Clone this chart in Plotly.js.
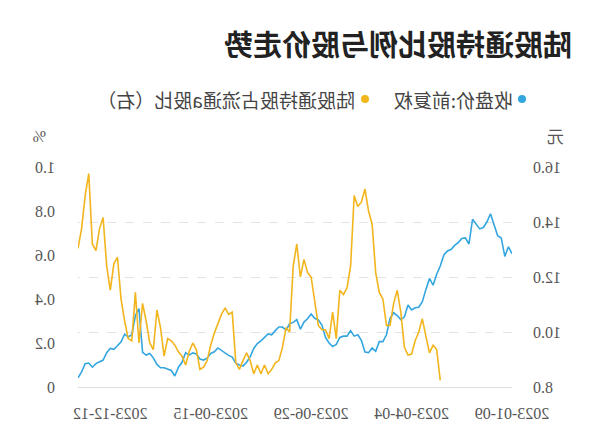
<!DOCTYPE html>
<html><head><meta charset="utf-8">
<script src="https://cdn.plot.ly/plotly-3.0.1.min.js"></script>
<style>
html,body{margin:0;padding:0;background:#fff;}
#chart{width:600px;height:446px;transform:scaleX(-1);}
</style>
</head><body><div id="chart"></div>
<script>
const chartTitle = '陆股通持股比例与股价走势';
const seriesNames = ['收盘价:前复权', '陆股通持股占流通a股比（右）'];
const tickIndex = [0, 28, 56, 84, 112];
const tickLabels = ['2023-01-09', '2023-04-04', '2023-06-29', '2023-09-15', '2023-12-12'];
const priceTicks = [8, 10, 12, 14, 16];
const pctTicks = [0, 0.2, 0.4, 0.6, 0.8, 1.0];
const pctTickText = ['0', '0.2', '0.4', '0.6', '0.8', '1.0'];

const price = [
 12.85,13.1,12.75,13.42,13.5,13.9,14.3,14.0,13.8,13.75,
 13.95,14.1,13.2,13.42,13.4,13.25,13.15,13.0,12.95,12.8,
 12.4,12.1,11.7,11.95,11.55,11.1,10.9,10.88,10.8,10.98,
 10.55,10.45,10.6,10.7,10.5,9.9,9.65,9.65,9.3,9.42,
 9.25,9.27,9.7,9.9,9.85,10.05,9.85,9.85,9.8,9.55,
 9.47,9.6,9.8,10.25,10.44,10.5,10.65,10.48,10.36,10.1,
 10.45,10.35,10.3,10.07,10.18,10.18,10.05,9.9,9.93,9.8,
 9.68,9.58,9.4,9.1,8.9,8.76,8.8,8.87,9.09,9.15,
 9.25,9.33,9.42,9.28,9.22,9.05,8.98,9.02,9.2,9.24,
 9.16,9.25,8.9,8.72,8.4,8.6,8.66,8.7,8.7,8.82,
 9.06,9.22,9.16,9.26,10.85,10.6,9.9,9.82,9.92,9.64,
 9.5,9.37,9.4,9.25,8.98,8.91,8.85,8.72,8.87,8.85,
 8.55,8.33
];

const holding = [
 null,null,null,null,null,null,null,null,null,null,
 null,null,null,null,null,null,null,null,null,null,
 0.03,0.17,0.19,0.155,0.23,0.31,0.25,0.21,0.15,0.145,
 0.18,0.34,0.44,0.38,0.28,0.28,0.4,0.43,0.52,0.74,
 0.8,0.9,0.84,0.82,0.87,0.55,0.45,0.42,0.44,0.22,
 0.34,0.22,0.26,0.26,0.28,0.4,0.5,0.52,0.58,0.5,
 0.65,0.55,0.25,0.27,0.18,0.12,0.11,0.08,0.06,0.1,
 0.06,0.1,0.06,0.12,0.155,0.12,0.08,0.11,0.34,0.33,
 0.36,0.33,0.29,0.245,0.19,0.12,0.09,0.08,0.17,0.2,
 0.16,0.1,0.14,0.16,0.19,0.21,0.22,0.14,0.27,0.35,
 0.17,0.2,0.3,0.38,0.2,0.43,0.21,0.22,0.3,0.4,
 0.59,0.56,0.44,0.55,0.77,0.72,0.62,0.65,0.97,0.87,
 0.72,0.63
];

const idx = price.map((_, i) => i);
const BLUE = '#33a6e0', GOLD = '#f2b51e';
const CJK = 'Noto Sans CJK SC, Noto Sans, sans-serif';
const NUM = 'Liberation Serif, Noto Sans CJK SC, serif';

const traces = [
  {x: idx, y: price, type: 'scatter', mode: 'lines', yaxis: 'y', name: seriesNames[0],
   line: {color: BLUE, width: 1.6}, hoverinfo: 'skip'},
  {x: idx, y: holding, type: 'scatter', mode: 'lines', yaxis: 'y2', name: seriesNames[1],
   line: {color: GOLD, width: 1.6}, connectgaps: false, hoverinfo: 'skip'}
];

// plot area in pixels: x 88..522, y 167..387
const px = u => (u - 88) / 434;
const py = v => (387 - v) / 220;
const legendY = 99;

const layout = {
  width: 600, height: 446,
  margin: {l: 88, r: 78, t: 167, b: 59},
  paper_bgcolor: '#fff', plot_bgcolor: '#fff',
  title: {text: chartTitle, x: 28/600, xanchor: 'left', xref: 'container',
          y: 1 - 46/446, yanchor: 'middle', yref: 'container',
          font: {family: CJK, size: 29, color: '#222', weight: 700}},
  showlegend: false,
  xaxis: {type: 'linear', range: [0, price.length - 1], tickvals: tickIndex, ticktext: tickLabels,
          showgrid: false, zeroline: false, showline: true, linecolor: '#dddddd', linewidth: 1,
          ticks: '', ticklabelstandoff: 12,
          tickfont: {family: NUM, size: 16, color: '#555'}},
  yaxis: {range: [8, 16], tickvals: priceTicks, tickformat: '.1f', showgrid: true,
          gridcolor: '#e3e3e3', griddash: 'dash', gridwidth: 1, zeroline: false, showline: false,
          ticks: '', ticklabelstandoff: 20, tickfont: {family: NUM, size: 16, color: '#555'}},
  yaxis2: {range: [0, 1], overlaying: 'y', side: 'right', tickvals: pctTicks, ticktext: pctTickText,
           showgrid: false, zeroline: false, showline: false, ticks: '', ticklabelstandoff: 22,
           tickfont: {family: NUM, size: 16, color: '#555'}},
  shapes: [
    {type: 'circle', xref: 'paper', yref: 'paper', xsizemode: 'pixel', ysizemode: 'pixel',
     xanchor: px(78), yanchor: py(legendY), x0: -4, x1: 4, y0: -4, y1: 4,
     fillcolor: BLUE, line: {width: 0}},
    {type: 'circle', xref: 'paper', yref: 'paper', xsizemode: 'pixel', ysizemode: 'pixel',
     xanchor: px(235), yanchor: py(legendY), x0: -4, x1: 4, y0: -4, y1: 4,
     fillcolor: GOLD, line: {width: 0}}
  ],
  annotations: [
    {text: seriesNames[0], xref: 'paper', yref: 'paper', x: px(85), y: py(legendY),
     xanchor: 'left', yanchor: 'middle', showarrow: false, font: {family: CJK, size: 19, color: '#444'}},
    {text: seriesNames[1], xref: 'paper', yref: 'paper', x: px(243), y: py(legendY),
     xanchor: 'left', yanchor: 'middle', showarrow: false, font: {family: CJK, size: 19, color: '#444'}},
    {text: '元', xref: 'paper', yref: 'paper', x: px(44), y: py(135),
     xanchor: 'center', yanchor: 'middle', showarrow: false, font: {family: CJK, size: 17, color: '#555'}},
    {text: '%', xref: 'paper', yref: 'paper', x: px(560), y: py(136),
     xanchor: 'center', yanchor: 'middle', showarrow: false, font: {family: NUM, size: 16, color: '#555'}}
  ]
};

Plotly.newPlot('chart', traces, layout, {displayModeBar: false, staticPlot: true});
</script>
</body></html>
